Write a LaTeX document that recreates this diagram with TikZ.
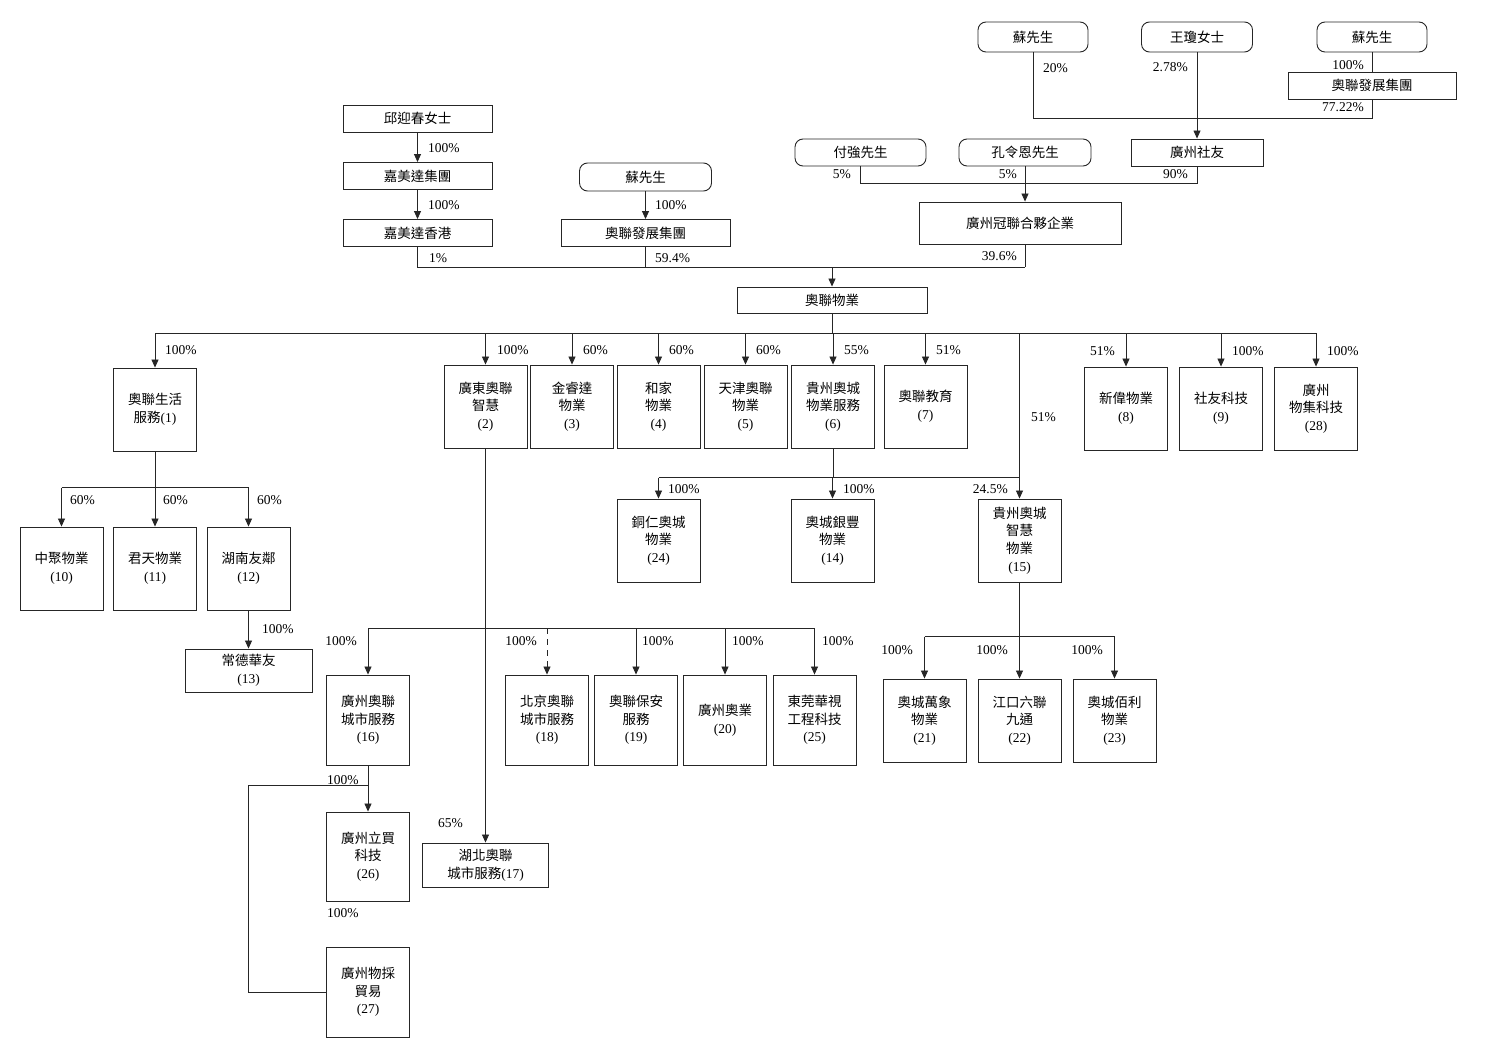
\documentclass[tikz,border=0pt]{standalone}
\usepackage{fontspec}
\setmainfont{Liberation Serif}
\newfontfamily\cjk{Noto Sans CJK TC}
\usetikzlibrary{arrows.meta}
\newcommand\zh[1]{{\cjk #1}}
\newcommand\fs{\fontsize{13.5}{17.7}\selectfont}
\begin{document}
\begin{tikzpicture}[x=1pt,y=-1pt,
  box/.style={draw=black!85, line width=0.9pt, align=center, inner sep=0pt, font=\fs},
  rbox/.style={box, rounded corners=8pt},
  sq/.style={box, minimum width=83pt, minimum height=83pt},
  tall/.style={box, minimum width=83pt, minimum height=90pt},
  ln/.style={draw=black!85, line width=0.8pt},
  arr/.style={ln, -{Triangle[length=8pt,width=7pt]}},
  pct/.style={font=\fs, inner sep=0pt}]
\fill[white] (0,0) rectangle (1490,1062);
\useasboundingbox (0,0) rectangle (1490,1062);

% ---------- top right owners ----------
\node[rbox, minimum width=110pt, minimum height=30pt] (s1) at (1033,37) {\zh{蘇先生}};
\node[rbox, minimum width=111pt, minimum height=30pt] (s2) at (1197,37) {\zh{王瓊女士}};
\node[rbox, minimum width=110pt, minimum height=30pt] (s3) at (1372,37) {\zh{蘇先生}};
\node[box, minimum width=168pt, minimum height=27pt] (tr) at (1372,85.5) {\zh{奧聯發展集團}};
\node[box, minimum width=132pt, minimum height=27pt] (gy) at (1197,152.5) {\zh{廣州社友}};
\node[rbox, minimum width=131pt, minimum height=27pt] (fq) at (860.5,152.5) {\zh{付強先生}};
\node[rbox, minimum width=132pt, minimum height=27pt] (kl) at (1025,152.5) {\zh{孔令恩先生}};
\node[box, minimum width=202pt, minimum height=42pt] (gl) at (1020,223) {\zh{廣州冠聯合夥企業}};

\draw[ln] (s3.south) -- (tr.north);
\draw[ln] (s1.south) -- ++(0,66) -| (tr.south);
\draw[arr] (s2.south) -- (gy.north);
\draw[ln] (fq.south) -- ++(0,17) -| (gy.south);
\draw[arr] (kl.south) -- (kl.south |- gl.north);
\draw[ln] (kl.south |- gl.south) -- ++(0,23) coordinate (gbus);

\node[pct, anchor=west] (p20) at (1043,68) {20\%};
\node[pct, anchor=east] (p278) at (1188,67) {2.78\%};
\node[pct, anchor=east] (p100a) at (1364,65) {100\%};
\node[pct, anchor=east] (p7722) at (1364,107) {77.22\%};
\node[pct, anchor=east] (p5a) at (851,174) {5\%};
\node[pct, anchor=east] (p5b) at (1017,174) {5\%};
\node[pct, anchor=east] (p90) at (1188,174) {90\%};
\node[pct, anchor=east] (p396) at (1017,256) {39.6\%};

% ---------- top left owners ----------
\node[box, minimum width=149pt, minimum height=27pt] (qy) at (417.5,118.5) {\zh{邱迎春女士}};
\node[box, minimum width=149pt, minimum height=27pt] (jm) at (417.5,176) {\zh{嘉美達集團}};
\node[box, minimum width=149pt, minimum height=27pt] (jh) at (417.5,233) {\zh{嘉美達香港}};
\node[rbox, minimum width=132pt, minimum height=28pt] (su) at (645.5,177) {\zh{蘇先生}};
\node[box, minimum width=169pt, minimum height=27pt] (ad) at (645.5,233) {\zh{奧聯發展集團}};
\node[box, minimum width=190pt, minimum height=26pt] (ay) at (832,300) {\zh{奧聯物業}};

\draw[arr] (qy.south) -- (jm.north);
\draw[arr] (jm.south) -- (jh.north);
\draw[arr] (su.south) -- (ad.north);
\draw[ln] (jh.south) |- (gbus);
\draw[ln] (ad.south) -- (ad.south |- gbus);
\draw[arr] (ay.north |- gbus) -- (ay.north);

\node[pct, anchor=west] (q1) at (428,148) {100\%};
\node[pct, anchor=west] (q2) at (428,205) {100\%};
\node[pct, anchor=west] (q3) at (429,258) {1\%};
\node[pct, anchor=west] (q4) at (655,205) {100\%};
\node[pct, anchor=west] (q5) at (655,258) {59.4\%};

% ---------- first level subsidiaries ----------
\node[sq] (b1) at (155,409.5) {\zh{奧聯生活}\\\zh{服務}(1)};
\node[sq] (b2) at (485.5,406.5) {\zh{廣東奧聯}\\\zh{智慧}\\(2)};
\node[sq] (b3) at (572,406.5) {\zh{金睿達}\\\zh{物業}\\(3)};
\node[sq] (b4) at (658.5,406.5) {\zh{和家}\\\zh{物業}\\(4)};
\node[sq] (b5) at (745.5,406.5) {\zh{天津奧聯}\\\zh{物業}\\(5)};
\node[sq] (b6) at (833,406.5) {\zh{貴州奧城}\\\zh{物業服務}\\(6)};
\node[sq] (b7) at (925.5,406.5) {\zh{奧聯教育}\\(7)};
\node[sq] (b8) at (1126,408.5) {\zh{新偉物業}\\(8)};
\node[sq] (b9) at (1221,408.5) {\zh{社友科技}\\(9)};
\node[sq] (b28) at (1316,408.5) {\zh{廣州}\\\zh{物集科技}\\(28)};

\coordinate (r1) at (832,333);
\draw[ln] (ay.south) -- (r1);
\draw[ln] (b1.north |- r1) -- (b28.north |- r1);
\foreach \n in {b1,b2,b3,b4,b5,b6,b7,b8,b9,b28}
  \draw[arr] (\n.north |- r1) -- (\n.north);

\node[pct, anchor=west] (c1) at (165,350) {100\%};
\node[pct, anchor=west] (c2) at (497,350) {100\%};
\node[pct, anchor=west] (c3) at (583,350) {60\%};
\node[pct, anchor=west] (c4) at (669,350) {60\%};
\node[pct, anchor=west] (c5) at (756,350) {60\%};
\node[pct, anchor=west] (c6) at (844,350) {55\%};
\node[pct, anchor=west] (c7) at (936,350) {51\%};
\node[pct, anchor=west] (c15) at (1031,417) {51\%};
\node[pct, anchor=east] (c8) at (1115,351) {51\%};
\node[pct, anchor=west] (c9) at (1232,351) {100\%};
\node[pct, anchor=west] (c28) at (1327,351) {100\%};

% ---------- under (6) ----------
\node[sq] (b24) at (658.5,540.5) {\zh{銅仁奧城}\\\zh{物業}\\(24)};
\node[sq] (b14) at (832.5,540.5) {\zh{奧城銀豐}\\\zh{物業}\\(14)};
\node[sq] (b15) at (1019.5,540.5) {\zh{貴州奧城}\\\zh{智慧}\\\zh{物業}\\(15)};
\coordinate (r6) at (833,477.5);
\draw[ln] (b6.south) -- (r6);
\draw[ln] (b24.north |- r6) -- (b15.north |- r6);
\draw[arr] (b24.north |- r6) -- (b24.north);
\draw[arr] (b14.north |- r6) -- (b14.north);
\draw[arr] (b15.north |- r1) -- (b15.north);
\node[pct, anchor=west] (d1) at (668,489) {100\%};
\node[pct, anchor=west] (d2) at (843,489) {100\%};
\node[pct, anchor=east] (d3) at (1008,489) {24.5\%};

% ---------- under (15) ----------
\node[sq] (b21) at (924.5,720.5) {\zh{奧城萬象}\\\zh{物業}\\(21)};
\node[sq] (b22) at (1019.5,720.5) {\zh{江口六聯}\\\zh{九通}\\(22)};
\node[sq] (b23) at (1114.5,720.5) {\zh{奧城佰利}\\\zh{物業}\\(23)};
\coordinate (r15) at (1019.5,636.7);
\draw[ln] (b15.south) -- (r15);
\draw[ln] (b21.north |- r15) -- (b23.north |- r15);
\foreach \n in {b21,b22,b23}
  \draw[arr] (\n.north |- r15) -- (\n.north);
\node[pct, anchor=east] (e1) at (913,650) {100\%};
\node[pct, anchor=east] (e2) at (1008,650) {100\%};
\node[pct, anchor=east] (e3) at (1103,650) {100\%};

% ---------- under (1) ----------
\node[sq] (b10) at (61.5,568.5) {\zh{中聚物業}\\(10)};
\node[sq] (b11) at (155,568.5) {\zh{君天物業}\\(11)};
\node[sq] (b12) at (248.5,568.5) {\zh{湖南友鄰}\\(12)};
\node[box, minimum width=127pt, minimum height=43pt] (b13) at (248.5,670.5) {\zh{常德華友}\\(13)};
\coordinate (r1b) at (155,487.7);
\draw[ln] (b1.south) -- (r1b);
\draw[ln] (b10.north |- r1b) -- (b12.north |- r1b);
\foreach \n in {b10,b11,b12}
  \draw[arr] (\n.north |- r1b) -- (\n.north);
\draw[arr] (b12.south) -- (b13.north);
\node[pct, anchor=west] (f1) at (70,500) {60\%};
\node[pct, anchor=west] (f2) at (163,500) {60\%};
\node[pct, anchor=west] (f3) at (257,500) {60\%};
\node[pct, anchor=west] (f4) at (262,629) {100\%};

% ---------- under (2) ----------
\node[tall] (b16) at (368,720) {\zh{廣州奧聯}\\\zh{城市服務}\\(16)};
\node[tall] (b18) at (547,720) {\zh{北京奧聯}\\\zh{城市服務}\\(18)};
\node[tall] (b19) at (636,720) {\zh{奧聯保安}\\\zh{服務}\\(19)};
\node[tall] (b20) at (725,720) {\zh{廣州奧業}\\(20)};
\node[tall] (b25) at (814.5,720) {\zh{東莞華視}\\\zh{工程科技}\\(25)};
\node[box, minimum width=126pt, minimum height=44pt] (b17) at (485.5,865) {\zh{湖北奧聯}\\\zh{城市服務}(17)};
\coordinate (r2) at (485.5,628.3);
\draw[arr] (b2.south) -- (b17.north);
\draw[ln] (b16.north |- r2) -- (b25.north |- r2);
\foreach \n in {b16,b19,b20,b25}
  \draw[arr] (\n.north |- r2) -- (\n.north);
\draw[arr, dashed, dash pattern=on 6pt off 5pt] (b18.north |- r2) -- (b18.north);
\node[pct, anchor=east] (g1) at (357,641) {100\%};
\node[pct, anchor=east] (g2) at (537,641) {100\%};
\node[pct, anchor=west] (g3) at (642,641) {100\%};
\node[pct, anchor=west] (g4) at (732,641) {100\%};
\node[pct, anchor=west] (g5) at (822,641) {100\%};
\node[pct, anchor=east] (g6) at (463,823) {65\%};

% ---------- under (16) ----------
\node[box, minimum width=83pt, minimum height=89pt] (b26) at (368,856.5) {\zh{廣州立買}\\\zh{科技}\\(26)};
\node[tall] (b27) at (368,992) {\zh{廣州物採}\\\zh{貿易}\\(27)};
\coordinate (r16) at (368,785);
\coordinate (lft) at (248,785);
\draw[arr] (b16.south) -- (b26.north);
\draw[ln] (r16) -- (lft) |- (b27.west);
\node[pct, anchor=west] (h1) at (327,780) {100\%};
\node[pct, anchor=west] (h2) at (327,913) {100\%};
\end{tikzpicture}
\end{document}
